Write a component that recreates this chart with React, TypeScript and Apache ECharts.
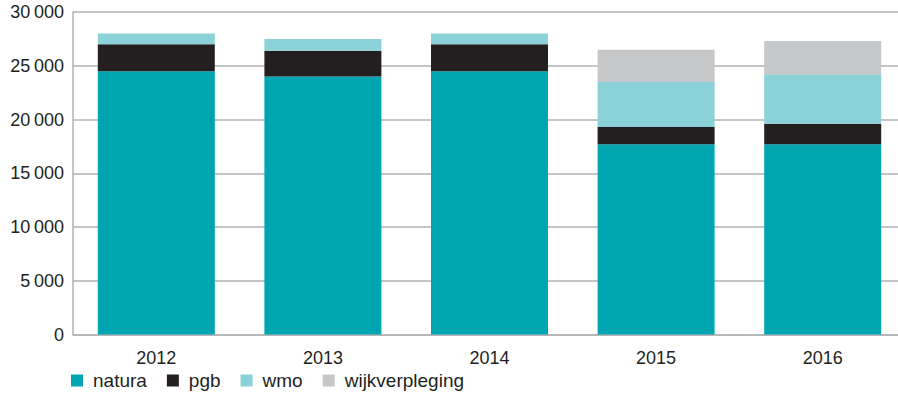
import React, { useEffect, useRef } from "react";
import * as echarts from "echarts";

const years = ["2012", "2013", "2014", "2015", "2016"];
const natura = [24500, 24000, 24500, 17700, 17700];
const pgb = [2500, 2400, 2500, 1600, 1900];
const wmo = [1000, 1100, 1000, 4200, 4600];
const wijkverpleging = [0, 0, 0, 3000, 3100];

const seriesNames = ["natura", "pgb", "wmo", "wijkverpleging"];
const seriesColors = ["#00A5B2", "#231F20", "#8AD2D8", "#C6C7C9"];

const TEXT = "#231F20";
const GRID_LINE = "#B2B2B5";
const FONT = "'Liberation Sans', Arial, Helvetica, sans-serif";

const formatThousands = (v: number) =>
  v >= 1000 ? `${Math.floor(v / 1000)}\u2009${String(v % 1000).padStart(3, "0")}` : String(v);

export default function App() {
  const ref = useRef<HTMLDivElement>(null);

  useEffect(() => {
    if (!ref.current) return;
    const chart = echarts.init(ref.current, undefined, { renderer: "svg" });
    const values = [natura, pgb, wmo, wijkverpleging];
    chart.setOption({
      animation: false,
      textStyle: { fontFamily: FONT },
      // the category band runs slightly past the visible right edge
      grid: { left: 73, top: 12, right: 4, height: 322.5, containLabel: false },
      legend: {
        left: 71,
        top: 371,
        padding: 0,
        itemWidth: 12,
        itemHeight: 12,
        itemGap: 20,
        icon: "rect",
        data: seriesNames,
        textStyle: { color: TEXT, fontSize: 19, fontFamily: FONT, padding: [0, 0, 0, 5] },
      },
      xAxis: {
        type: "category",
        data: years,
        axisLine: { lineStyle: { color: GRID_LINE, width: 1.5 } },
        axisTick: { show: false },
        axisLabel: { color: TEXT, fontSize: 18, fontFamily: FONT, margin: 14 },
      },
      yAxis: {
        type: "value",
        min: 0,
        max: 30000,
        interval: 5000,
        axisLine: { show: true, lineStyle: { color: GRID_LINE, width: 1.5 } },
        axisTick: { show: false },
        splitLine: { lineStyle: { color: GRID_LINE, width: 1.5 } },
        axisLabel: {
          color: TEXT,
          fontSize: 18,
          fontFamily: FONT,
          margin: 9,
          formatter: (v: number) => formatThousands(v),
        },
      },
      series: seriesNames.map((name, i) => ({
        name,
        type: "bar",
        stack: "total",
        barWidth: 117,
        itemStyle: { color: seriesColors[i] },
        data: values[i],
      })),
    });
    return () => chart.dispose();
  }, []);

  return (
    <div style={{ width: 898, height: 393, position: "absolute", left: 0, top: 0, overflow: "hidden" }}>
      <div ref={ref} style={{ width: 910, height: 393 }} />
    </div>
  );
}
